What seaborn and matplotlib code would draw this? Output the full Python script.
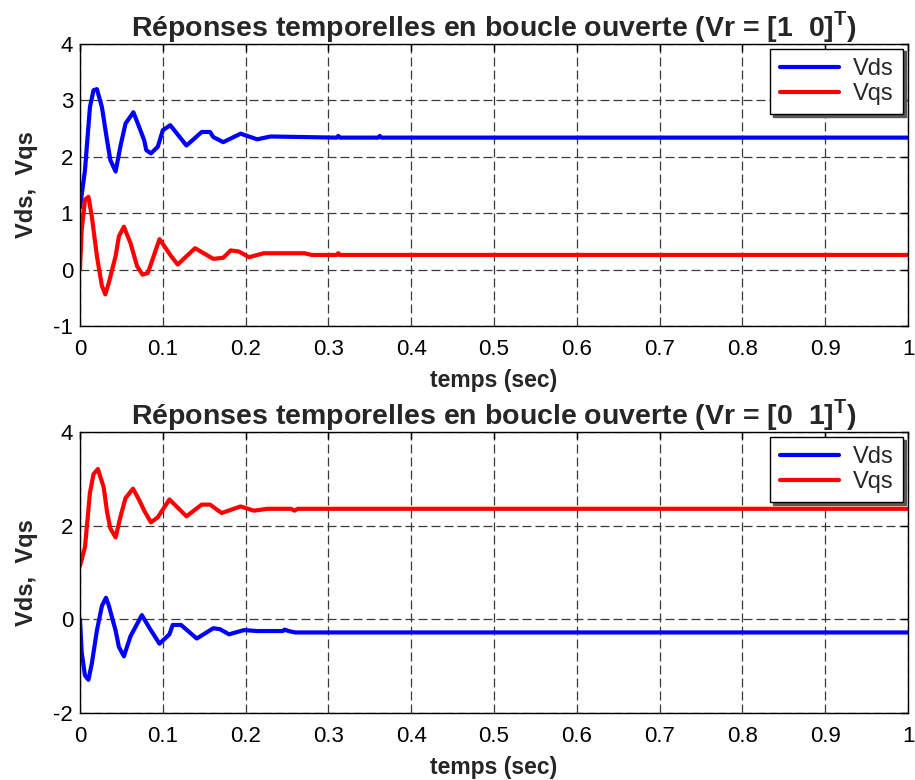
import numpy as np
import pandas as pd
import matplotlib
matplotlib.use("Agg")
import matplotlib.pyplot as plt
import seaborn as sns

# ---- data ----
t_top_vds = [0, 0.006, 0.012, 0.0163, 0.0204, 0.0265, 0.0327, 0.0367, 0.043, 0.049, 0.055, 0.0645, 0.0714,
             0.0776, 0.080, 0.0857, 0.094, 0.100, 0.109, 0.1286, 0.147, 0.157, 0.161, 0.173, 0.194, 0.214,
             0.230, 0.31, 0.312, 0.314, 0.36, 0.362, 0.364, 1.0]
v_top_vds = [1.10, 1.76, 2.88, 3.18, 3.20, 2.88, 2.29, 1.94, 1.74, 2.20, 2.59, 2.79, 2.53,
             2.29, 2.12, 2.06, 2.18, 2.47, 2.56, 2.20, 2.44, 2.44, 2.35, 2.26, 2.41, 2.31,
             2.36, 2.34, 2.37, 2.34, 2.34, 2.37, 2.34, 2.34]

t_top_vqs = [0, 0.002, 0.006, 0.0102, 0.0143, 0.0204, 0.0265, 0.0306, 0.0347, 0.043, 0.047, 0.053,
             0.061, 0.069, 0.0755, 0.082, 0.096, 0.110, 0.118, 0.139, 0.161, 0.173, 0.182, 0.192,
             0.204, 0.222, 0.239, 0.271, 0.280, 0.31, 0.312, 0.314, 1.0]
v_top_vqs = [0.00, 0.70, 1.24, 1.29, 0.94, 0.24, -0.29, -0.44, -0.24, 0.24, 0.59, 0.76,
             0.47, 0.06, -0.09, -0.06, 0.54, 0.24, 0.09, 0.38, 0.19, 0.21, 0.34, 0.32,
             0.22, 0.29, 0.29, 0.29, 0.26, 0.26, 0.29, 0.26, 0.26]

t_bot_vqs = [0, 0.006, 0.012, 0.0163, 0.0216, 0.0286, 0.0327, 0.0367, 0.043, 0.049, 0.055, 0.064, 0.0714,
             0.0776, 0.0857, 0.094, 0.108, 0.1286, 0.147, 0.157, 0.171, 0.194, 0.210, 0.2265,
             0.255, 0.259, 0.263, 1.0]
v_bot_vqs = [1.14, 1.54, 2.70, 3.10, 3.21, 2.82, 2.29, 1.94, 1.75, 2.20, 2.59, 2.79, 2.55,
             2.32, 2.07, 2.18, 2.56, 2.20, 2.45, 2.45, 2.27, 2.41, 2.32, 2.36,
             2.36, 2.32, 2.36, 2.36]

t_bot_vds = [0, 0.002, 0.006, 0.0102, 0.0143, 0.0204, 0.0265, 0.0314, 0.0347, 0.043, 0.047, 0.053,
             0.061, 0.0747, 0.0837, 0.096, 0.108, 0.112, 0.122, 0.141, 0.161, 0.169, 0.180,
             0.198, 0.214, 0.245, 0.247, 0.252, 0.26, 1.0]
v_bot_vds = [0.00, -0.70, -1.20, -1.29, -0.94, -0.24, 0.29, 0.46, 0.30, -0.24, -0.59, -0.79,
             -0.36, 0.09, -0.18, -0.52, -0.32, -0.12, -0.12, -0.41, -0.19, -0.21, -0.32,
             -0.23, -0.25, -0.25, -0.22, -0.25, -0.28, -0.28]

series_names = ["Vds", "Vqs"]
x_ticks = [0, 0.1, 0.2, 0.3, 0.4, 0.5, 0.6, 0.7, 0.8, 0.9, 1]
x_tick_labels = ["0", "0.1", "0.2", "0.3", "0.4", "0.5", "0.6", "0.7", "0.8", "0.9", "1"]
y_ticks_top = [-1, 0, 1, 2, 3, 4]
y_ticks_bot = [-2, 0, 2, 4]
titles = [r"Réponses temporelles en boucle ouverte (Vr = [1  0]$^\mathbf{T}$)",
          r"Réponses temporelles en boucle ouverte (Vr = [0  1]$^\mathbf{T}$)"]
xlabel = "temps (sec)"
ylabel = "Vds,  Vqs"

# ---- build frames ----
df_top = pd.concat([
    pd.DataFrame({"t": t_top_vds, "v": v_top_vds, "s": "Vds"}),
    pd.DataFrame({"t": t_top_vqs, "v": v_top_vqs, "s": "Vqs"}),
])
df_bot = pd.concat([
    pd.DataFrame({"t": t_bot_vds, "v": v_bot_vds, "s": "Vds"}),
    pd.DataFrame({"t": t_bot_vqs, "v": v_bot_vqs, "s": "Vqs"}),
])

sns.set_style("white")
plt.rcParams["font.family"] = ["Liberation Sans", "DejaVu Sans"]
plt.rcParams["mathtext.fontset"] = "custom"
plt.rcParams["mathtext.bf"] = "Liberation Sans:bold"
plt.rcParams["mathtext.rm"] = "Liberation Sans"
plt.rcParams["axes.unicode_minus"] = False

fig = plt.figure(figsize=(9.15, 7.8), dpi=100)
ax1 = fig.add_axes([80/915, 1-326/780, 828/915, 282/780])
ax2 = fig.add_axes([80/915, 1-713/780, 828/915, 281/780])

palette = {"Vds": "#0000ff", "Vqs": "#ff0000"}

for ax, df, yt, title in [(ax1, df_top, y_ticks_top, titles[0]), (ax2, df_bot, y_ticks_bot, titles[1])]:
    sns.lineplot(data=df, x="t", y="v", hue="s", hue_order=series_names, palette=palette,
                 linewidth=3.0, ax=ax, sort=False, estimator=None)
    ax.set_xlim(0, 1)
    ax.set_ylim(yt[0], yt[-1])
    ax.set_xticks(x_ticks)
    ax.set_xticklabels(x_tick_labels)
    ax.set_yticks(yt)
    ax.tick_params(direction="in", top=True, right=True, length=5, width=1,
                   labelsize=16, colors="black")
    ax.tick_params(axis="x", pad=9)
    ax.tick_params(axis="y", pad=5)
    ax.grid(True, linestyle=(0, (7.2, 3.2)), color="#3a3a3a", linewidth=0.9)
    for sp in ax.spines.values():
        sp.set_color("black")
        sp.set_linewidth(1.0)
    ax.set_title(title, fontsize=20.5, fontweight="bold", pad=5.5)
    ax.set_xlabel(xlabel, fontsize=16.5, fontweight="bold", labelpad=6.5)
    ax.set_ylabel(ylabel, fontsize=17, fontweight="bold", labelpad=11)
    leg = ax.legend(loc="upper right", fontsize=17, frameon=True, fancybox=False,
                    edgecolor="black", framealpha=1, handlelength=2.5, handletextpad=0.6,
                    borderaxespad=0.2, borderpad=0.4, labelspacing=0.12,
                    shadow={"color": "0.35", "alpha": 1})
    leg.get_frame().set_linewidth(1.0)
    for h in leg.get_lines():
        h.set_linewidth(3.0)

fig.savefig("out.png", dpi=100)
